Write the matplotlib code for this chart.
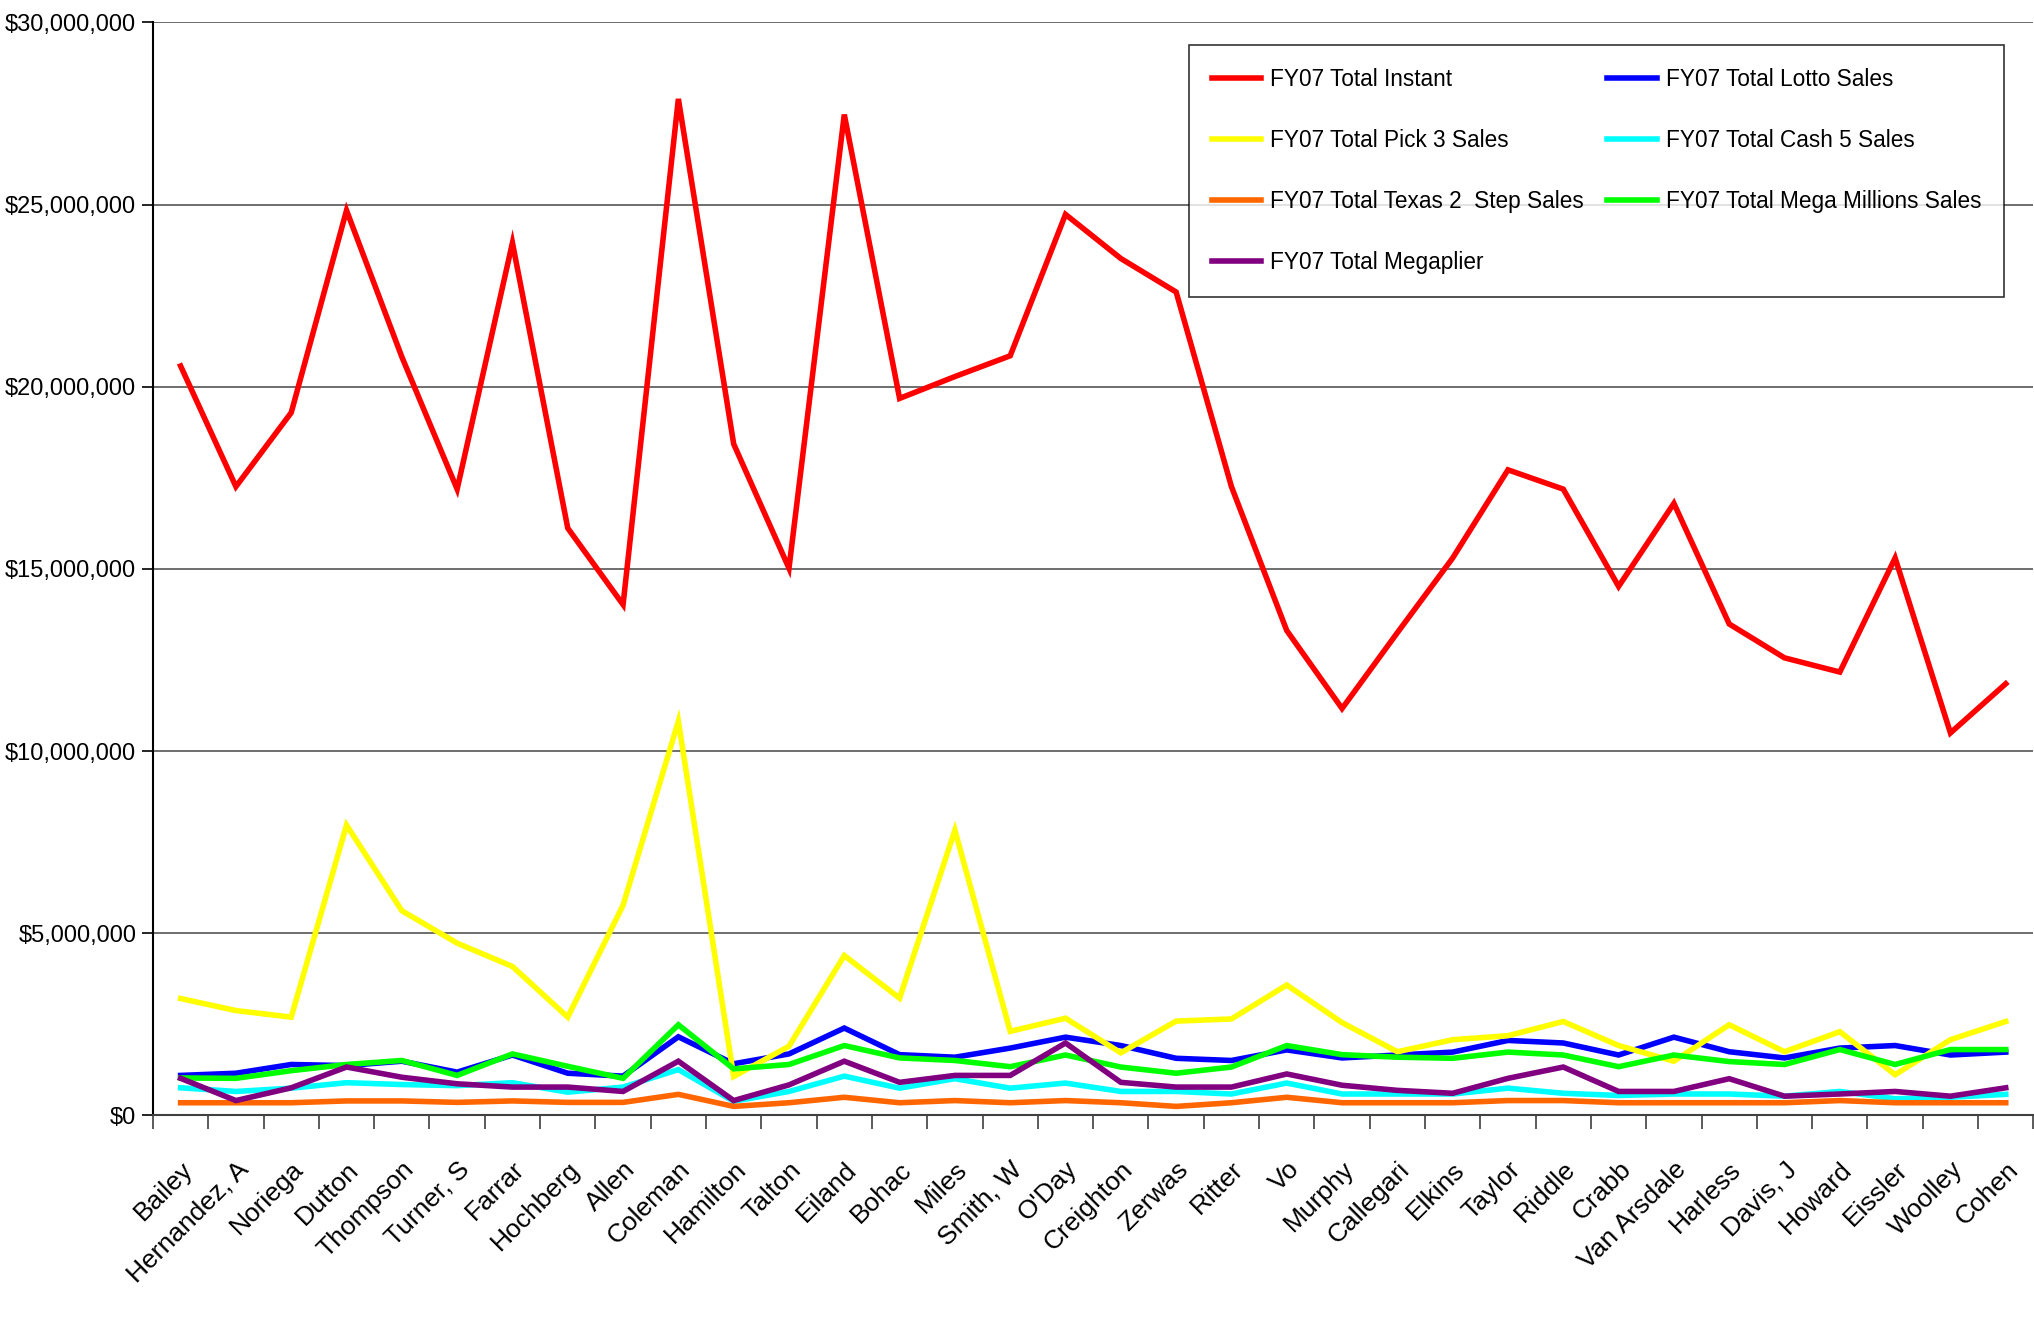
import numpy as np
import matplotlib
matplotlib.use("Agg")
import matplotlib.pyplot as plt
from matplotlib.ticker import FuncFormatter, FixedLocator

plt.rcParams['font.family'] = ['Liberation Sans', 'DejaVu Sans']

# categories (representatives)
names = ["Bailey", "Hernandez, A", "Noriega", "Dutton", "Thompson", "Turner, S",
         "Farrar", "Hochberg", "Allen", "Coleman", "Hamilton", "Talton", "Eiland",
         "Bohac", "Miles", "Smith, W", "O'Day", "Creighton", "Zerwas", "Ritter",
         "Vo", "Murphy", "Callegari", "Elkins", "Taylor", "Riddle", "Crabb",
         "Van Arsdale", "Harless", "Davis, J", "Howard", "Eissler", "Woolley", "Cohen"]

# values in millions of dollars
instant = [20.57, 17.26, 19.29, 24.84, 20.82, 17.19, 23.95, 16.12, 14.02, 27.90,
           18.43, 15.02, 27.47, 19.68, 20.28, 20.85, 24.73, 23.52, 22.60, 17.26,
           13.31, 11.17, 13.25, 15.30, 17.72, 17.19, 14.52, 16.80, 13.49, 12.56,
           12.17, 15.30, 10.50, 11.85]
lotto = [1.10, 1.16, 1.40, 1.37, 1.49, 1.19, 1.66, 1.16, 1.08, 2.16,
         1.42, 1.69, 2.40, 1.67, 1.60, 1.85, 2.15, 1.92, 1.57, 1.51,
         1.80, 1.58, 1.66, 1.74, 2.06, 1.99, 1.66, 2.15, 1.75, 1.58,
         1.85, 1.92, 1.66, 1.74]
pick3 = [3.21, 2.88, 2.70, 7.97, 5.62, 4.73, 4.09, 2.70, 5.77, 10.82,
         1.07, 1.90, 4.39, 3.22, 7.83, 2.31, 2.67, 1.72, 2.59, 2.65,
         3.58, 2.55, 1.75, 2.08, 2.19, 2.58, 1.92, 1.49, 2.49, 1.75,
         2.30, 1.12, 2.08, 2.58]
cash5 = [0.76, 0.66, 0.75, 0.90, 0.85, 0.82, 0.90, 0.64, 0.78, 1.26,
         0.39, 0.66, 1.08, 0.75, 1.01, 0.75, 0.89, 0.66, 0.66, 0.59,
         0.89, 0.59, 0.59, 0.59, 0.75, 0.61, 0.55, 0.59, 0.59, 0.53,
         0.66, 0.46, 0.50, 0.58]
texas = [0.35, 0.35, 0.35, 0.40, 0.40, 0.36, 0.40, 0.36, 0.36, 0.58,
         0.25, 0.35, 0.50, 0.35, 0.41, 0.35, 0.41, 0.35, 0.25, 0.35,
         0.50, 0.35, 0.35, 0.35, 0.41, 0.41, 0.35, 0.35, 0.35, 0.35,
         0.41, 0.35, 0.35, 0.35]
mega = [1.03, 1.02, 1.23, 1.40, 1.51, 1.10, 1.69, 1.35, 1.02, 2.49,
        1.28, 1.40, 1.92, 1.58, 1.51, 1.34, 1.66, 1.33, 1.16, 1.33,
        1.92, 1.67, 1.60, 1.57, 1.74, 1.66, 1.34, 1.66, 1.48, 1.40,
        1.81, 1.40, 1.81, 1.81]
megaplier = [1.02, 0.41, 0.76, 1.33, 1.05, 0.87, 0.78, 0.78, 0.66, 1.49,
             0.41, 0.84, 1.49, 0.91, 1.10, 1.10, 1.99, 0.91, 0.78, 0.78,
             1.14, 0.83, 0.69, 0.61, 1.02, 1.33, 0.66, 0.66, 1.01, 0.53,
             0.59, 0.66, 0.53, 0.76]

labels = ["FY07 Total Instant", "FY07 Total Lotto Sales", "FY07 Total Pick 3 Sales",
          "FY07 Total Cash 5 Sales", "FY07 Total Texas 2  Step Sales",
          "FY07 Total Mega Millions Sales", "FY07 Total Megaplier"]
series = [instant, lotto, pick3, cash5, texas, mega, megaplier]
colors = ["#FF0000", "#0000FF", "#FFFF00", "#00FFFF", "#FF6600", "#00FF00", "#800080"]

fig = plt.figure(figsize=(20.34, 13.17), dpi=100)
ax = fig.add_axes([0.0752, 0.153, 0.9245, 0.830])

x = np.arange(len(names))
handles = []
for vals, lab, col in zip(series, labels, colors):
    h, = ax.plot(x, np.array(vals) * 1e6, color=col, lw=4.0, label=lab,
                 solid_joinstyle='miter')
    handles.append(h)

ax.set_xlim(-0.5, len(names) - 0.5)
ax.set_ylim(0, 30e6)
ax.set_yticks(np.arange(0, 30e6 + 1, 5e6))
ax.yaxis.set_major_formatter(FuncFormatter(lambda v, p: "${:,.0f}".format(v)))
ax.grid(axis='y', color='#555555', lw=1.2)
ax.set_axisbelow(True)

# category ticks: marks between categories, labels centred
ax.set_xticks(x)
ax.set_xticklabels(names, rotation=45, ha='right', va='top',
                   rotation_mode='anchor', fontsize=19)
ax.xaxis.set_minor_locator(FixedLocator(np.arange(-0.5, len(names), 1.0)))
ax.tick_params(axis='x', which='major', length=0, pad=30)
ax.tick_params(axis='x', which='minor', length=10, width=1.2, color='#404040')
ax.tick_params(axis='y', length=8, width=1.2, labelsize=17, pad=4)

for s in ['top', 'right']:
    ax.spines[s].set_visible(False)
ax.spines['left'].set_linewidth(1.5)
ax.spines['bottom'].set_linewidth(1.5)
ax.spines['bottom'].set_color('#404040')

# legend: row-wise order in two columns
order = [0, 2, 4, 6, 1, 3, 5]
leg = ax.legend([handles[i] for i in order], [labels[i] for i in order],
                ncol=2, loc='upper right', bbox_to_anchor=(0.9843, 0.979),
                borderaxespad=0,
                fontsize=16.3, frameon=True, fancybox=False, edgecolor='black',
                handlelength=2.2, handletextpad=0.4, columnspacing=1.0,
                labelspacing=1.68, borderpad=1.0)
leg.get_frame().set_linewidth(1.2)
for line in leg.get_lines():
    line.set_linewidth(4)

fig.savefig("out.png", dpi=100)
